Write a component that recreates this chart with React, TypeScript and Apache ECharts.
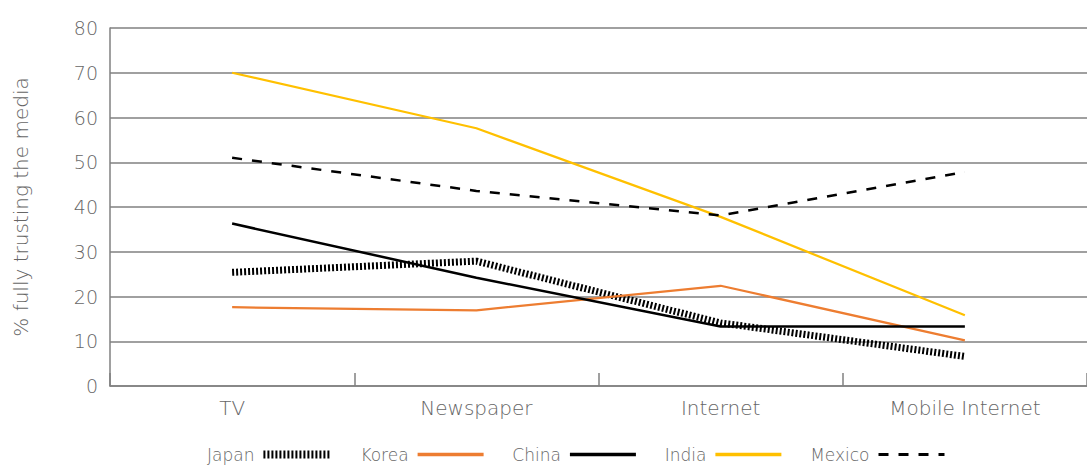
import React, { useEffect, useRef } from "react";
import * as echarts from "echarts";

// Media categories along the x axis
const categories = ["TV", "Newspaper", "Internet", "Mobile Internet"];

// Share of respondents fully trusting each medium (%)
const japan = [25.4, 27.9, 14.1, 6.6];
const korea = [17.6, 16.9, 22.4, 10.2];
const china = [36.3, 24.2, 13.3, 13.3];
const india = [70.0, 57.6, 37.8, 15.8];
const mexico = [51.0, 43.6, 38.1, 47.8];

const countries = ["Japan", "Korea", "China", "India", "Mexico"];

const FONT = "'DejaVu Sans', sans-serif";
const WEIGHT = 200;
const TEXT = "#666666";
const GRID = "#808080";

// Line look per country: colour, width, dash pattern
const looks: Record<string, { color: string; width: number; type: any }> = {
  Japan: { color: "#000000", width: 7, type: [2, 2] },
  Korea: { color: "#ED7D31", width: 2.25, type: "solid" },
  China: { color: "#000000", width: 2.5, type: "solid" },
  India: { color: "#FFC000", width: 2.25, type: "solid" },
  Mexico: { color: "#000000", width: 2.5, type: [10, 10] },
};

// Legend swatches are drawn a little heavier than the plotted lines
const legendWidth: Record<string, number> = {
  Japan: 8,
  Korea: 3.5,
  China: 3.5,
  India: 3.5,
  Mexico: 3,
};

export default function App() {
  const ref = useRef<HTMLDivElement>(null);

  useEffect(() => {
    if (!ref.current) return;
    const chart = echarts.init(ref.current, undefined, { renderer: "svg" });

    const values: Record<string, number[]> = {
      Japan: japan,
      Korea: korea,
      China: china,
      India: india,
      Mexico: mexico,
    };

    const labelStyle = { color: TEXT, fontFamily: FONT, fontWeight: WEIGHT };

    chart.setOption({
      animation: false,
      textStyle: { fontFamily: FONT },
      grid: { left: 110, right: 0, top: 28, bottom: 80 },
      xAxis: {
        type: "category",
        data: categories,
        boundaryGap: true,
        axisLine: { lineStyle: { color: GRID, width: 1.5 } },
        axisTick: { show: true, inside: true, length: 13, lineStyle: { color: GRID, width: 1.5 } },
        axisLabel: { ...labelStyle, fontSize: 20, margin: 12 },
      },
      yAxis: {
        type: "value",
        min: 0,
        max: 80,
        interval: 10,
        name: "% fully trusting the media",
        nameLocation: "middle",
        nameGap: 79,
        nameTextStyle: { ...labelStyle, fontSize: 20 },
        axisLine: { show: true, lineStyle: { color: GRID, width: 1.5 } },
        axisTick: { show: false },
        axisLabel: { ...labelStyle, fontSize: 19, margin: 12 },
        splitLine: { show: true, lineStyle: { color: GRID, width: 1.5 } },
      },
      legend: {
        bottom: -2,
        left: 202,
        align: "right",
        itemWidth: 66,
        itemHeight: 14,
        itemGap: 27,
        itemStyle: { opacity: 0 },
        textStyle: { ...labelStyle, fontSize: 17, padding: [0, 4, 0, 0] },
        data: countries.map((name) => ({
          name,
          lineStyle: { ...looks[name], width: legendWidth[name] },
          itemStyle: { opacity: 0 },
        })),
      },
      series: countries.map((name) => ({
        name,
        type: "line",
        data: values[name],
        symbol: "none",
        showSymbol: false,
        lineStyle: { ...looks[name] },
        itemStyle: { color: looks[name].color },
      })),
    });

    return () => chart.dispose();
  }, []);

  return (
    <div
      ref={ref}
      style={{ position: "fixed", left: 0, top: 0, width: 1087, height: 466, background: "#fff" }}
    />
  );
}
